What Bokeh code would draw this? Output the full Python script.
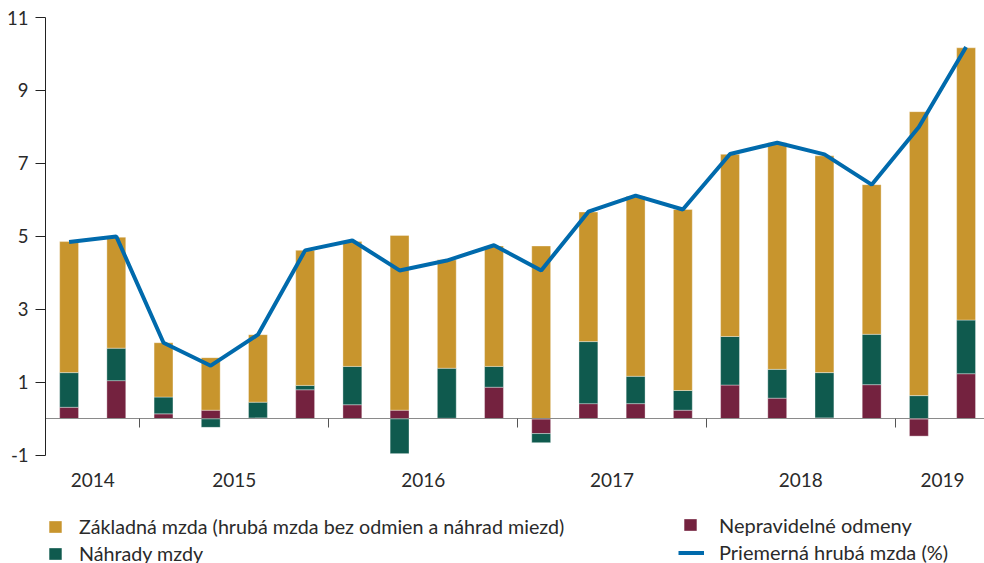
import numpy as np
from bokeh.plotting import figure
from bokeh.models import (Range1d, FixedTicker, LinearAxis, Legend, LegendItem,
                          ColumnDataSource)
from bokeh.embed import file_html
from bokeh.resources import INLINE

# ---- data ----
years = ["2014", "2014",
         "2015", "2015", "2015", "2015",
         "2016", "2016", "2016", "2016",
         "2017", "2017", "2017", "2017",
         "2018", "2018", "2018", "2018",
         "2019", "2019"]
zakladna = [3.59, 3.04, 1.49, 1.44, 1.85, 3.70, 3.42, 4.79, 2.97, 3.30,
            4.74, 3.55, 4.93, 4.96, 4.99, 6.21, 5.94, 4.10, 7.78, 7.46]
nahrady = [0.95, 0.89, 0.46, -0.23, 0.43, 0.12, 1.05, -0.95, 1.37, 0.57,
           -0.25, 1.70, 0.75, 0.54, 1.33, 0.79, 1.24, 1.38, 0.64, 1.47]
odmeny = [0.32, 1.05, 0.14, 0.24, 0.03, 0.80, 0.39, 0.24, 0.02, 0.87,
          -0.40, 0.42, 0.42, 0.24, 0.93, 0.57, 0.03, 0.94, -0.47, 1.24]
priemerna = [4.85, 5.00, 2.09, 1.46, 2.31, 4.62, 4.89, 4.07, 4.34, 4.76,
             4.07, 5.68, 6.12, 5.74, 7.26, 7.57, 7.25, 6.42, 8.00, 10.19]
y_ticks = [-1, 1, 3, 5, 7, 9, 11]
y_tick_labels = ["-1", "1", "3", "5", "7", "9", "11"]

names = ["Základná mzda (hrubá mzda bez odmien a náhrad miezd)",
         "Náhrady mzdy", "Nepravidelné odmeny", "Priemerná hrubá mzda (%)"]
colors = {"zak": "#C8952D", "nah": "#0F5A4E", "odm": "#74223F", "line": "#006AAC"}

# ---- stacking with positive / negative parts ----
x = np.arange(len(years), dtype=float)
pos = np.zeros(len(x))
neg = np.zeros(len(x))
stacks = {}
for key, vals in (("odm", odmeny), ("nah", nahrady), ("zak", zakladna)):
    v = np.array(vals)
    bottom = np.where(v >= 0, pos, neg)
    top = bottom + v
    pos = np.where(v >= 0, top, pos)
    neg = np.where(v < 0, top, neg)
    stacks[key] = (bottom, top)

# year label centres and boundaries
uniq = []
for y in years:
    if y not in uniq:
        uniq.append(y)
centers = [float(np.mean([i for i, y in enumerate(years) if y == u])) for u in uniq]
bounds = [i - 0.5 for i in range(1, len(years)) if years[i] != years[i - 1]]

FONT = "Lato"
TXT = "#2a2a2a"
Y_MIN, Y_MAX = y_ticks[0], y_ticks[-1]

p = figure(width=984, height=563, output_backend="svg", toolbar_location=None,
           x_range=Range1d(-0.5, 19.39), y_range=Range1d(-3.96, Y_MAX),
           min_border_left=45, min_border_right=0, min_border_top=17,
           min_border_bottom=0)
p.outline_line_color = None
p.grid.visible = False
p.background_fill_color = "white"

renderers = {}
for key in ("odm", "nah", "zak"):
    b, t = stacks[key]
    src = ColumnDataSource(dict(x=x, bottom=b, top=t))
    renderers[key] = p.vbar(x="x", bottom="bottom", top="top", width=0.4, source=src,
                            fill_color=colors[key], line_color="white",
                            line_alpha=0.35, line_width=1)

line_r = p.line(x, priemerna, line_width=4, line_color=colors["line"])

# y axis
p.yaxis.bounds = (Y_MIN, Y_MAX)
p.yaxis.ticker = FixedTicker(ticks=y_ticks)
p.yaxis.major_label_overrides = {t: s for t, s in zip(y_ticks, y_tick_labels)}
p.yaxis.axis_line_color = "#222222"
p.yaxis.major_tick_line_color = "#222222"
p.yaxis.major_tick_out = 10
p.yaxis.major_tick_in = 0
p.yaxis.minor_tick_line_color = None
p.yaxis.major_label_standoff = 7
p.yaxis.major_label_text_font = FONT
p.yaxis.major_label_text_font_size = "18.5px"
p.yaxis.major_label_text_color = TXT

# year labels axis (placed at the bottom of the value axis)
p.xaxis.fixed_location = Y_MIN
p.xaxis.ticker = FixedTicker(ticks=centers)
p.xaxis.major_label_overrides = {c: u for c, u in zip(centers, uniq)}
p.xaxis.axis_line_color = None
p.xaxis.major_tick_line_color = None
p.xaxis.minor_tick_line_color = None
p.xaxis.major_label_standoff = 12
p.xaxis.major_label_text_font = FONT
p.xaxis.major_label_text_font_size = "19px"
p.xaxis.major_label_text_color = TXT

# zero line with year boundary ticks
zero_axis = LinearAxis(fixed_location=0, ticker=FixedTicker(ticks=bounds),
                       axis_line_color="#8a8a8a", axis_line_width=1.2,
                       major_tick_line_color="#555555", major_tick_out=9,
                       major_tick_in=0, minor_tick_line_color=None,
                       major_label_text_font_size="0px", major_label_text_alpha=0)
p.add_layout(zero_axis, "below")

def mk_legend(items, loc, gw, standoff, fs="20px"):
    lg = Legend(items=items, location=loc, orientation="vertical",
                glyph_width=gw, glyph_height=15, label_height=15, spacing=4,
                label_standoff=standoff, padding=0, margin=0,
                border_line_color=None, background_fill_alpha=0,
                label_text_font=FONT, label_text_font_size=fs,
                label_text_color=TXT)
    p.add_layout(lg, "center")
    return lg

mk_legend([LegendItem(label=names[0], renderers=[renderers["zak"]]),
           LegendItem(label=names[1], renderers=[renderers["nah"]])],
          (2, -1.5), 16, 16, "19.7px")
mk_legend([LegendItem(label=names[2], renderers=[renderers["odm"]])],
          (637, 26.5), 16, 21)
mk_legend([LegendItem(label=names[3], renderers=[line_r])],
          (633, -1.3), 26, 15)

open("out.html", "w").write(file_html(p, INLINE))
